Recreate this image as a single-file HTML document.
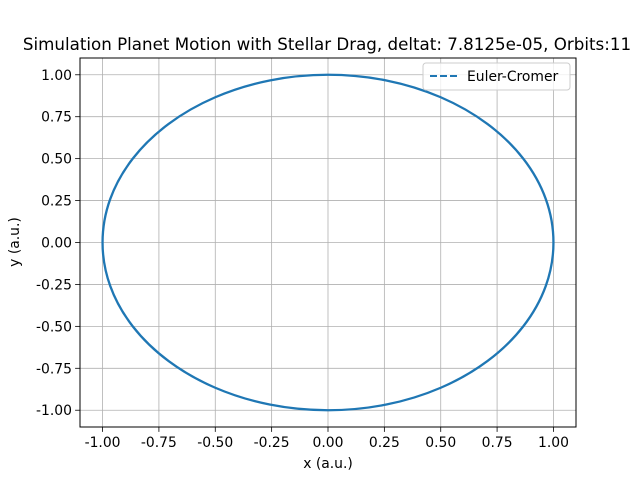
<!DOCTYPE html>
<html><head><meta charset="utf-8"><style>
body{margin:0;background:#fff}
svg text{font-family:"DejaVu Sans","Liberation Sans",sans-serif;fill:#000}
</style></head><body>
<svg width="640" height="480" id="svg" xmlns="http://www.w3.org/2000/svg">
<rect width="640" height="480" fill="#fff"/>
<text x="327" y="50" font-size="16.7" text-anchor="middle">Simulation Planet Motion with Stellar Drag, deltat: 7.8125e-05, Orbits:11</text>
<g id="grid"></g>
<g id="ticks"></g>
<path id="orbit" fill="none" stroke="#1f77b4" stroke-width="2.3"/>
<rect x="80" y="58" width="496" height="369" fill="none" stroke="#000" stroke-width="1"/>
<text x="328" y="468" font-size="13.9" text-anchor="middle">x (a.u.)</text>
<text transform="translate(19,242) rotate(-90)" font-size="13.9" text-anchor="middle">y (a.u.)</text>
<g>
<rect x="423" y="63" width="147" height="27" rx="3" fill="#fff" fill-opacity="0.8" stroke="#ccc"/>
<line x1="430" y1="76" x2="458" y2="76" stroke="#1f77b4" stroke-width="2" stroke-dasharray="7,3"/>
<text x="467" y="81" font-size="13.9">Euler-Cromer</text>
</g>
</svg>
<script>
const xTicks=[-1.00,-0.75,-0.50,-0.25,0.00,0.25,0.50,0.75,1.00];
const yTicks=[-1.00,-0.75,-0.50,-0.25,0.00,0.25,0.50,0.75,1.00];
const orbitX=[1,0.966,0.866,0.707,0.5,0.259,0,-0.259,-0.5,-0.707,-0.866,-0.966,-1,-0.966,-0.866,-0.707,-0.5,-0.259,0,0.259,0.5,0.707,0.866,0.966,1];
const orbitY=[0,0.259,0.5,0.707,0.866,0.966,1,0.966,0.866,0.707,0.5,0.259,0,-0.259,-0.5,-0.707,-0.866,-0.966,-1,-0.966,-0.866,-0.707,-0.5,-0.259,0];
const X0=80,X1=576,Y0=427,Y1=58,DMIN=-1.1,DMAX=1.1;
const sx=v=>X0+(v-DMIN)/(DMAX-DMIN)*(X1-X0);
const sy=v=>Y0-(v-DMIN)/(DMAX-DMIN)*(Y0-Y1);
const NS="http://www.w3.org/2000/svg";
const grid=document.getElementById('grid'),ticks=document.getElementById('ticks');
function mk(t,a,p){const e=document.createElementNS(NS,t);for(const k in a)e.setAttribute(k,a[k]);p.appendChild(e);return e;}
xTicks.forEach(v=>{const x=sx(v);
const g=mk('line',{x1:x,x2:x,y1:Y1,y2:Y0,stroke:'#b0b0b0','stroke-width':0.8},grid);


const t=mk('line',{x1:x,x2:x,y1:Y0,y2:Y0+4.9,stroke:'#000','stroke-width':0.8},ticks);


const l=mk('text',{x:x,y:Y0+20,'font-size':13.9,'text-anchor':'middle'},ticks);l.textContent=v.toFixed(2);

});
yTicks.forEach(v=>{const y=sy(v);
const g=mk('line',{x1:X0,x2:X1,y1:y,y2:y,stroke:'#b0b0b0','stroke-width':0.8},grid);


const t=mk('line',{x1:X0-4.9,x2:X0,y1:y,y2:y,stroke:'#000','stroke-width':0.8},ticks);


const l=mk('text',{x:X0-8,y:y+5,'font-size':13.9,'text-anchor':'end'},ticks);l.textContent=v.toFixed(2);

});
const P=orbitX.map((x,i)=>[sx(x),sy(orbitY[i])]);const n=P.length-1;
let d='M'+P[0][0]+','+P[0][1];
for(let i=0;i<n;i++){const p0=P[(i-1+n)%n],p1=P[i],p2=P[i+1],p3=P[(i+2)%n];
d+=' C'+(p1[0]+(p2[0]-p0[0])/6)+','+(p1[1]+(p2[1]-p0[1])/6)+' '+(p2[0]-(p3[0]-p1[0])/6)+','+(p2[1]-(p3[1]-p1[1])/6)+' '+p2[0]+','+p2[1];}
document.getElementById('orbit').setAttribute('d',d);
</script>
</body></html>
